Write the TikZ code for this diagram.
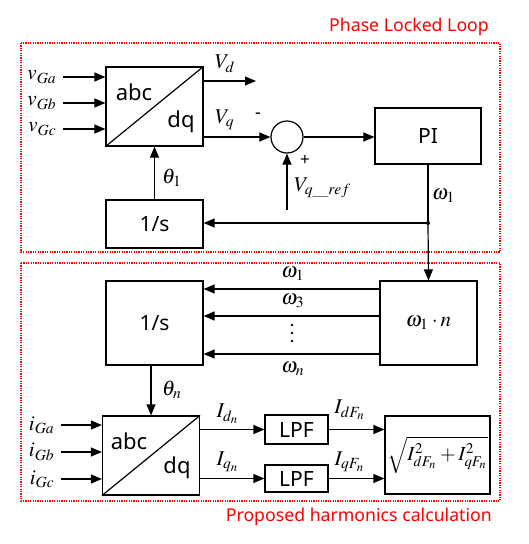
\documentclass[tikz,border=0pt]{standalone}
\usepackage{mathptmx}
\usepackage{graphicx}
\usepackage{fontspec}
\setsansfont{Noto Sans}
\usetikzlibrary{arrows.meta}
\newcommand{\mlab}[1]{\scalebox{2.1}{$#1$}}
\begin{document}
\begin{tikzpicture}[x=1pt,y=-1pt,
  blk/.style={draw, line width=1.2pt, inner sep=0pt, font=\sffamily\fontsize{21}{23}\selectfont},
  mblk/.style={draw, line width=1.2pt, inner sep=0pt, font=\normalsize},
  sanstxt/.style={font=\sffamily\fontsize{22}{24}\selectfont, inner sep=0pt},
  arr/.style={line width=1.2pt, -{Triangle[length=11pt,width=9pt]}},
  ln/.style={line width=1.2pt},
  region/.style={draw=red, line width=1.2pt, dash pattern=on 1.2pt off 1.2pt},
  lab/.style={inner sep=0pt, font=\normalsize},
  redtxt/.style={text=red, font=\sffamily\fontsize{17.7}{19}\selectfont, inner sep=0pt}
]
\useasboundingbox (0,0) rectangle (529,544);
% regions
\draw[region] (21,43) rectangle (500,252);
\draw[region] (21,263) rectangle (500,501);
\node[redtxt, anchor=east] (t1) at (489,27) {Phase Locked Loop};
\node[redtxt, anchor=east] (t2) at (492,517) {Proposed harmonics calculation};

% PLL blocks
\node[blk, minimum width=97pt, minimum height=79pt] (abc1) at (154.5,106.5) {};
\draw[ln] (abc1.south west) -- (abc1.north east);
\node[sanstxt] (abc1a) at (134,92) {abc};
\node[sanstxt] (abc1b) at (181,122) {dq};
\node[draw, circle, line width=1.2pt, minimum size=32pt, inner sep=0pt] (sum) at (287,137) {};
\node[blk, minimum width=106pt, minimum height=56pt] (PI) at (428,136) {PI};
\node[blk, minimum width=97pt, minimum height=48pt] (s1) at (154.5,224) {1/s};

\coordinate (va) at (63,77);
\coordinate (vb) at (63,103);
\coordinate (vc) at (63,129);
\draw[arr] (va) -- (abc1.west |- va);
\draw[arr] (vb) -- (abc1.west |- vb);
\draw[arr] (vc) -- (abc1.west |- vc);
\node[lab, anchor=east] (lva) at (57,77) {\mlab{v_{Ga}}};
\node[lab, anchor=east] (lvb) at (57,103) {\mlab{v_{Gb}}};
\node[lab, anchor=east] (lvc) at (57,129) {\mlab{v_{Gc}}};

\coordinate (vdend) at (256,81);
\draw[arr] (abc1.east |- vdend) -- (vdend);
\node[lab] (lvd) at (225,64) {\mlab{V_d}};
\draw[arr] (abc1.east |- sum) -- (sum.west);
\node[lab] (lvq) at (225,120) {\mlab{V_q}};
\node[font=\sffamily\fontsize{18}{20}\selectfont, inner sep=0pt] (minus) at (258,116) {-};
\node[font=\sffamily\fontsize{17}{19}\selectfont, inner sep=0pt] (plus) at (305,160) {+};
\draw[arr] (sum.east) -- (PI.west |- sum);
\coordinate (vref) at (287,210);
\draw[arr] (vref) -- (sum.south);
\node[lab, anchor=west] (lvref) at (294,188) {\mlab{V_{q\_ref}}};

\draw[arr] (s1.north) -- (abc1.south);
\node[lab] (lth1) at (172,178) {\mlab{\theta_1}};

\coordinate (junc) at (428,223);
\draw[ln] (PI.south) -- (junc);
\fill (junc) circle (2pt);
\draw[arr] (junc) -- (s1.east |- junc);
\node[lab, anchor=west] (lw1) at (432,196) {\mlab{\omega_1}};

% harmonics blocks
\node[blk, minimum width=97pt, minimum height=84pt] (s2) at (154.5,323) {1/s};
\node[mblk, minimum width=97pt, minimum height=84pt] (wn) at (428.5,323) {\mlab{\omega_1\cdot n}};
\draw[arr] (junc) -- (wn.north);

\coordinate (h1) at (380,289);
\coordinate (h3) at (380,316);
\coordinate (hn) at (380,354);
\draw[arr] (h1) -- (s2.east |- h1);
\draw[arr] (h3) -- (s2.east |- h3);
\draw[arr] (hn) -- (s2.east |- hn);
\node[lab] (lh1) at (293,274) {\mlab{\omega_1}};
\node[lab] (lh3) at (293,301) {\mlab{\omega_3}};
\fill (292,325) circle (1.3pt) (292,333) circle (1.3pt) (292,341) circle (1.3pt);
\node[lab] (lhn) at (293,369) {\mlab{\omega_n}};

\node[blk, minimum width=97pt, minimum height=79pt] (abc2) at (151,455.5) {};
\draw[ln] (abc2.south west) -- (abc2.north east);
\node[sanstxt] (abc2a) at (129,441) {abc};
\node[sanstxt] (abc2b) at (177,468) {dq};
\draw[arr] (s2.south -| abc2.north) -- (abc2.north);
\node[lab] (lthn) at (172,390) {\mlab{\theta_n}};

\coordinate (ia) at (61,425);
\coordinate (ib) at (61,452);
\coordinate (ic) at (61,479);
\draw[arr] (ia) -- (abc2.west |- ia);
\draw[arr] (ib) -- (abc2.west |- ib);
\draw[arr] (ic) -- (abc2.west |- ic);
\node[lab, anchor=east] (lia) at (55,425) {\mlab{i_{Ga}}};
\node[lab, anchor=east] (lib) at (55,452) {\mlab{i_{Gb}}};
\node[lab, anchor=east] (lic) at (55,479) {\mlab{i_{Gc}}};

\node[blk, minimum width=63pt, minimum height=29pt] (lpf1) at (296.5,429.5) {LPF};
\node[blk, minimum width=63pt, minimum height=27pt] (lpf2) at (296.5,478.5) {LPF};
\node[mblk, minimum width=105pt, minimum height=78pt] (sq) at (437.5,455) {\scalebox{2.0}{$\sqrt{I_{dF_n}^2+I_{qF_n}^2}$}};

\draw[arr] (abc2.east |- lpf1) -- (lpf1.west);
\draw[arr] (abc2.east |- lpf2) -- (lpf2.west);
\draw[arr] (lpf1.east) -- (sq.west |- lpf1);
\draw[arr] (lpf2.east) -- (sq.west |- lpf2);
\node[lab] (lid) at (228,414) {\mlab{I_{d_n}}};
\node[lab] (liq) at (228,462) {\mlab{I_{q_n}}};
\node[lab] (lidf) at (350,410) {\mlab{I_{dF_n}}};
\node[lab] (liqf) at (350,462) {\mlab{I_{qF_n}}};
\end{tikzpicture}
\end{document}
